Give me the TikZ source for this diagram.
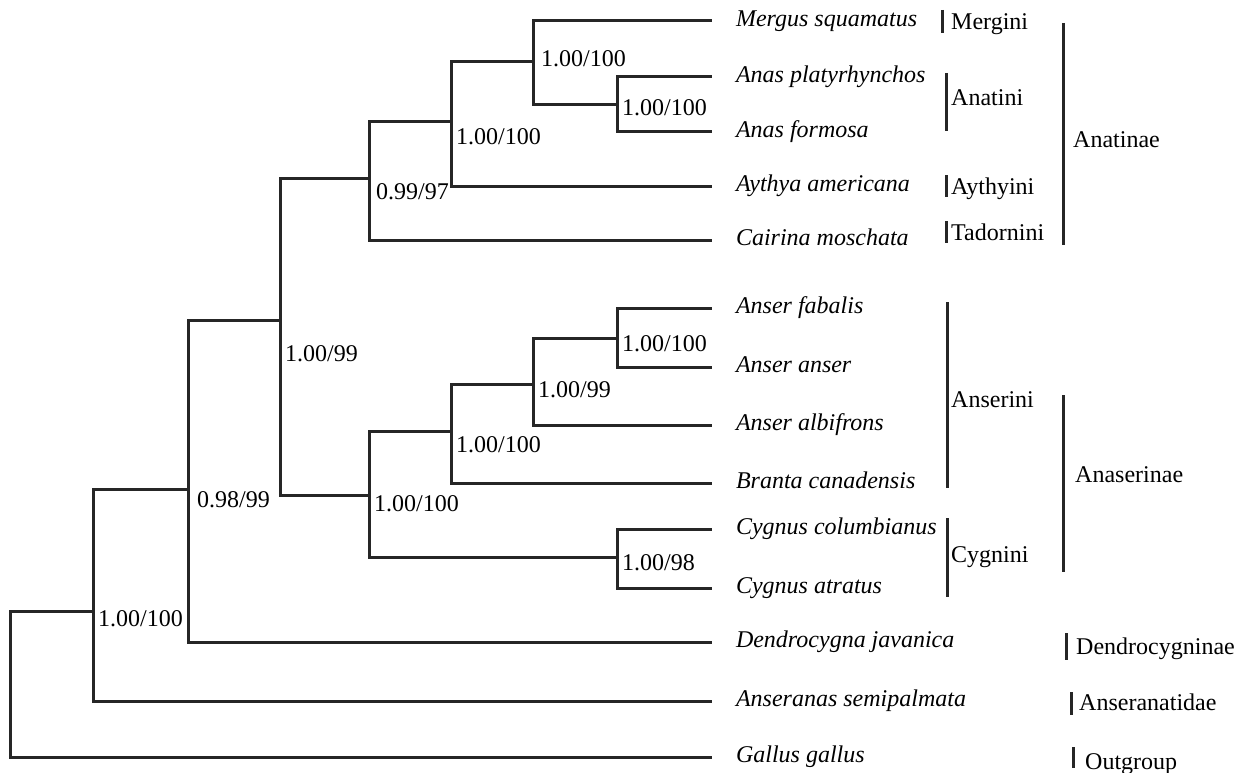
\documentclass[tikz,border=0pt]{standalone}
\usepackage{fontspec}
\setmainfont{Liberation Serif}
\usepackage{tikz}

\begin{document}
\begin{tikzpicture}[x=1pt,y=-1pt,
		branch/.style={line width=3pt,black!85},
		bar/.style={line width=3pt,black!85},
		taxon/.style={anchor=west,inner xsep=24pt,inner ysep=0pt,outer sep=0pt,text height=16pt,text depth=5pt,font={\fontsize{24}{28}\selectfont\itshape}},
		support/.style={anchor=west,inner sep=0pt,text height=16pt,text depth=5pt,font={\fontsize{24}{28}\selectfont}},
		clade/.style={anchor=west,inner sep=0pt,text height=16pt,text depth=5pt,font={\fontsize{24}{28}\selectfont}}]

				\useasboundingbox (0,0) rectangle (1239,773);

				\node[taxon] (mergus) at (712,21) {Mergus squamatus};
				\node[taxon] (platy) at (712,77) {Anas platyrhynchos};
				\node[taxon] (formosa) at (712,132) {Anas formosa};
				\node[taxon] (aythya) at (712,186) {Aythya americana};
				\node[taxon] (cairina) at (712,240) {Cairina moschata};

				\node[taxon] (fabalis) at (712,308) {Anser fabalis};
				\node[taxon] (anser) at (712,367) {Anser anser};
				\node[taxon] (albifrons) at (712,425) {Anser albifrons};
				\node[taxon] (branta) at (712,483) {Branta canadensis};
				\node[taxon] (columb) at (712,529) {Cygnus columbianus};
				\node[taxon] (atratus) at (712,588) {Cygnus atratus};

				\node[taxon] (dendro) at (712,642) {Dendrocygna javanica};
				\node[taxon] (anseranas) at (712,701) {Anseranas semipalmata};
				\node[taxon] (gallus) at (712,757) {Gallus gallus};

				\coordinate (nAnas) at (617,105);
				\coordinate (nMergus) at (533,62);
				\coordinate (nAythya) at (451,122);
				\coordinate (nCairina) at (369,178);
				\coordinate (nFabalis) at (617,338);
				\coordinate (nAlbifrons) at (533,384);
				\coordinate (nBranta) at (451,431);
				\coordinate (nCygnus) at (617,557);
				\coordinate (nGeese) at (369,495);
				\coordinate (nDucks) at (280,320);
				\coordinate (nDendro) at (188,489);
				\coordinate (nAnseranas) at (93,611);
				\coordinate (nRoot) at (10,684);

				\draw[branch] (nAnas) |- (platy);
				\draw[branch] (nAnas) |- (formosa);
				\draw[branch] (nMergus) |- (mergus);
				\draw[branch] (nMergus) |- (nAnas);
				\draw[branch] (nAythya) |- (nMergus);
				\draw[branch] (nAythya) |- (aythya);
				\draw[branch] (nCairina) |- (nAythya);
				\draw[branch] (nCairina) |- (cairina);

				\draw[branch] (nFabalis) |- (fabalis);
				\draw[branch] (nFabalis) |- (anser);
				\draw[branch] (nAlbifrons) |- (nFabalis);
				\draw[branch] (nAlbifrons) |- (albifrons);
				\draw[branch] (nBranta) |- (nAlbifrons);
				\draw[branch] (nBranta) |- (branta);
				\draw[branch] (nCygnus) |- (columb);
				\draw[branch] (nCygnus) |- (atratus);
				\draw[branch] (nGeese) |- (nBranta);
				\draw[branch] (nGeese) |- (nCygnus);

				\draw[branch] (nDucks) |- (nCairina);
				\draw[branch] (nDucks) |- (nGeese);
				\draw[branch] (nDendro) |- (nDucks);
				\draw[branch] (nDendro) |- (dendro);
				\draw[branch] (nAnseranas) |- (nDendro);
				\draw[branch] (nAnseranas) |- (anseranas);
				\draw[branch] (nRoot) |- (nAnseranas);
				\draw[branch] (nRoot) |- (gallus);

				\node[support] (sAnas) at (622,110) {1.00/100};
				\node[support] (sMergus) at (541,61) {1.00/100};
				\node[support] (sAythya) at (456,139) {1.00/100};
				\node[support] (sCairina) at (376,194) {0.99/97};
				\node[support] (sFabalis) at (622,346) {1.00/100};
				\node[support] (sAlbifrons) at (538,392) {1.00/99};
				\node[support] (sBranta) at (456,447) {1.00/100};
				\node[support] (sCygnus) at (622,565) {1.00/98};
				\node[support] (sGeese) at (374,506) {1.00/100};
				\node[support] (sDucks) at (285,356) {1.00/99};
				\node[support] (sDendro) at (197,502) {0.98/99};
				\node[support] (sAnseranas) at (98,621) {1.00/100};

				\node[clade] (mergini) at (951,24) {Mergini};
				\node[clade] (anatini) at (951,100) {Anatini};
				\node[clade] (aythyini) at (951,189) {Aythyini};
				\node[clade] (tadornini) at (951,235) {Tadornini};
				\node[clade] (anatinae) at (1073,142) {Anatinae};
				\node[clade] (anserini) at (951,402) {Anserini};
				\node[clade] (cygnini) at (951,557) {Cygnini};
				\node[clade] (anaserinae) at (1075,477) {Anaserinae};
				\node[clade] (dendrocygninae) at (1076,649) {Dendrocygninae};
				\node[clade] (anseranatidae) at (1079,705) {Anseranatidae};
				\node[clade] (outgroup) at (1085,764) {Outgroup};

				\draw[bar] (942,10) -- (942,33);
				\draw[bar] (946,73) -- (946,131);
				\draw[bar] (946,175) -- (946,197);
				\draw[bar] (946,221) -- (946,243);
				\draw[bar] (1063,23) -- (1063,245);
				\draw[bar] (947,302) -- (947,488);
				\draw[bar] (947,518) -- (947,597);
				\draw[bar] (1063,395) -- (1063,572);
				\draw[bar] (1066,633) -- (1066,660);
				\draw[bar] (1071,692) -- (1071,715);
				\draw[bar] (1073,747) -- (1073,768);

\end{tikzpicture}
\end{document}
